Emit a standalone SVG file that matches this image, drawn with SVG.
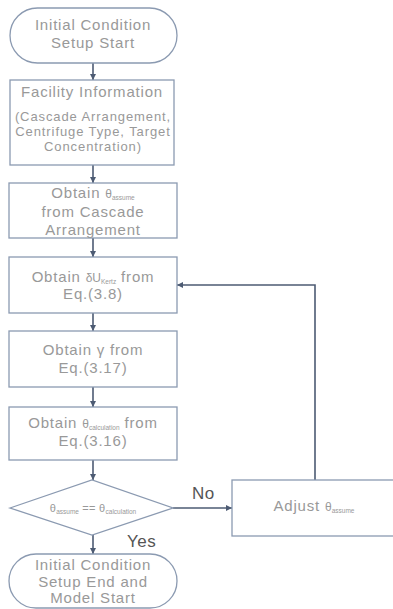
<svg xmlns="http://www.w3.org/2000/svg" width="393" height="609" viewBox="0 0 393 609">
<style>
.box{fill:#fff;stroke:#8b9ab1;stroke-width:1.3}
.t{font-family:"Liberation Sans",Arial,sans-serif;font-size:15px;fill:#999;text-anchor:middle;letter-spacing:0.8px}
.s{font-size:13px;letter-spacing:0.9px}
.g{font-size:12px;letter-spacing:0}
.sub{font-size:6.5px;letter-spacing:0}
.lbl{font-family:"Liberation Sans",Arial,sans-serif;font-size:17px;fill:#555;letter-spacing:0.5px}
.conn{stroke:#4d5b73;stroke-width:1.6;fill:none}
</style>
<defs>
<marker id="ah" markerWidth="7" markerHeight="7" refX="6" refY="3.5" orient="auto" markerUnits="userSpaceOnUse">
<path d="M0,0.5 L6,3.5 L0,6.5 z" fill="#4d5b73"/>
</marker>
</defs>
<g id="connectors">
<line class="conn" x1="93" y1="63" x2="93" y2="80" marker-end="url(#ah)"/>
<line class="conn" x1="93" y1="165" x2="93" y2="183" marker-end="url(#ah)"/>
<line class="conn" x1="93" y1="238" x2="93" y2="257" marker-end="url(#ah)"/>
<line class="conn" x1="93" y1="313" x2="93" y2="331" marker-end="url(#ah)"/>
<line class="conn" x1="93" y1="387" x2="93" y2="407" marker-end="url(#ah)"/>
<line class="conn" x1="93" y1="460" x2="93" y2="480" marker-end="url(#ah)"/>
<line class="conn" x1="93" y1="535" x2="93" y2="554" marker-end="url(#ah)"/>
<line class="conn" x1="173" y1="508" x2="232" y2="508" marker-end="url(#ah)"/>
<polyline class="conn" points="315,480 315,285 177,285" marker-end="url(#ah)"/>
<text class="lbl" x="192" y="499">No</text>
<text class="lbl" x="127" y="547">Yes</text>
</g>
<g id="start">
<rect class="box" x="10" y="8" width="167" height="55" rx="27.5"/>
<text class="t" x="93" y="30">Initial Condition</text>
<text class="t" x="93" y="48">Setup Start</text>
</g>
<g id="facility">
<rect class="box" x="10" y="80" width="164" height="85"/>
<text class="t" x="92" y="97">Facility Information</text>
<text class="t s" x="93" y="121">(Cascade Arrangement,</text>
<text class="t s" x="93" y="136">Centrifuge Type, Target</text>
<text class="t s" x="93" y="151">Concentration)</text>
</g>
<g id="theta-assume">
<rect class="box" x="9" y="183" width="168" height="55"/>
<text class="t" x="93" y="198">Obtain <tspan class="g">θ</tspan><tspan class="sub" dy="2">assume</tspan></text>
<text class="t" x="93" y="217">from Cascade</text>
<text class="t" x="93" y="235">Arrangement</text>
</g>
<g id="delta-u">
<rect class="box" x="9" y="257" width="168" height="56"/>
<text class="t" x="93" y="282">Obtain <tspan class="g">δU</tspan><tspan class="sub" dy="2">Kertz</tspan><tspan dy="-2"> from</tspan></text>
<text class="t" x="93" y="299">Eq.(3.8)</text>
</g>
<g id="gamma">
<rect class="box" x="9" y="331" width="168" height="56"/>
<text class="t" x="93" y="355">Obtain γ from</text>
<text class="t" x="93" y="373">Eq.(3.17)</text>
</g>
<g id="theta-calc">
<rect class="box" x="9" y="407" width="168" height="53"/>
<text class="t" x="93" y="428">Obtain <tspan class="g">θ</tspan><tspan class="sub" dy="2">calculation</tspan><tspan dy="-2"> from</tspan></text>
<text class="t" x="93" y="446">Eq.(3.16)</text>
</g>
<g id="decision">
<polygon class="box" points="10,508 92,480 173,508 92,535"/>
<text class="t" x="93" y="512" style="font-size:11px;letter-spacing:0.3px">θ<tspan class="sub" dy="1.5">assume</tspan><tspan dy="-1.5"> == θ</tspan><tspan class="sub" dy="1.5">calculation</tspan></text>
</g>
<g id="adjust">
<rect class="box" x="232" y="480" width="175" height="56"/>
<text class="t" x="314" y="511">Adjust <tspan class="g">θ</tspan><tspan class="sub" dy="2">assume</tspan></text>
</g>
<g id="end">
<rect class="box" x="9" y="554" width="168" height="54" rx="27"/>
<text class="t" x="93" y="570">Initial Condition</text>
<text class="t" x="93" y="587">Setup End and</text>
<text class="t" x="93" y="603">Model Start</text>
</g>
</svg>
